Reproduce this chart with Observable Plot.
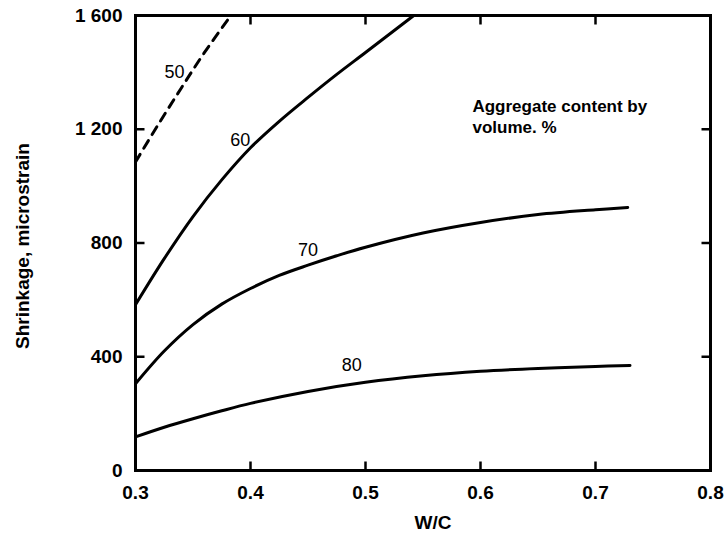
<!DOCTYPE html>
<html>
<head>
<meta charset="utf-8">
<script src="https://cdn.jsdelivr.net/npm/d3@7"></script>
<script src="https://cdn.jsdelivr.net/npm/@observablehq/plot@0.6"></script>
<style>
  html, body { margin: 0; padding: 0; background: #fff; }
  #chart svg { display: block; }
  #chart g[aria-label="x-axis tick label"] text,
  #chart g[aria-label="y-axis tick label"] text { font-weight: bold; }
</style>
</head>
<body>
<div id="chart"></div>
<script>
// ---- data ----
const wc50 = [0.300, 0.320, 0.340, 0.360, 0.383];
const s50  = [1085, 1218, 1346, 1470, 1600];

const wc60 = [0.300, 0.325, 0.350, 0.375, 0.400, 0.425, 0.450, 0.475, 0.500, 0.542];
const s60  = [583, 745, 893, 1022, 1135, 1228, 1312, 1393, 1470, 1600];

const wc70 = [0.300, 0.325, 0.350, 0.375, 0.400, 0.425, 0.450, 0.475, 0.500, 0.550, 0.600, 0.650, 0.700, 0.728];
const s70  = [305, 420, 513, 585, 640, 686, 722, 755, 785, 835, 872, 900, 917, 925];

const wc80 = [0.300, 0.325, 0.350, 0.375, 0.400, 0.450, 0.500, 0.550, 0.600, 0.650, 0.700, 0.730];
const s80  = [118, 152, 182, 210, 236, 278, 310, 333, 349, 359, 366, 369];

const curveNames   = ["50", "60", "70", "80"];
const labelWc      = [0.334, 0.391, 0.450, 0.488];
const labelShrink  = [1400, 1160, 774, 369];

const xTicks      = [0.3, 0.4, 0.5, 0.6, 0.7, 0.8];
const xTickLabels = ["0.3", "0.4", "0.5", "0.6", "0.7", "0.8"];
const xInnerTicks = [0.4, 0.5, 0.6, 0.7];
const yTicks      = [0, 400, 800, 1200, 1600];
const yTickLabels = ["0", "400", "800", "1 200", "1 600"];
const yInnerTicks = [400, 800, 1200];

const xLabel = "W/C";
const yLabel = "Shrinkage, microstrain";
const noteLines = ["Aggregate content by", "volume. %"];
const noteWc = 0.593;
const noteShrink = 1310;

// ---- layout ----
const W = 724, H = 540;
const mL = 135, mR = 14, mT = 15, mB = 70;
const frameW = W - mL - mR, frameH = H - mT - mB;
const tickLen = 9;
const xDomain = [0.3, 0.8], yDomain = [0, 1600];
const tickDy = tickLen * (yDomain[1] - yDomain[0]) / frameH;
const tickDx = tickLen * (xDomain[1] - xDomain[0]) / frameW;

// ---- build tables ----
const seriesWc = [wc50, wc60, wc70, wc80];
const seriesS  = [s50, s60, s70, s80];
const rows = curveNames.flatMap((name, i) =>
  seriesWc[i].map((w, j) => ({ name, wc: w, s: seriesS[i][j] })));
const labels = curveNames.map((name, i) => ({ name, wc: labelWc[i], s: labelShrink[i] }));
const bottomTicks = xInnerTicks.map(x => ({ x1: x, x2: x, y1: yDomain[0], y2: yDomain[0] + tickDy }));
const topTicks    = xInnerTicks.map(x => ({ x1: x, x2: x, y1: yDomain[1] - tickDy, y2: yDomain[1] }));
const leftTicks   = yInnerTicks.map(y => ({ x1: xDomain[0], x2: xDomain[0] + tickDx, y1: y, y2: y }));
const rightTicks  = yInnerTicks.map(y => ({ x1: xDomain[1] - tickDx, x2: xDomain[1], y1: y, y2: y }));
const allTicks = [...bottomTicks, ...topTicks, ...leftTicks, ...rightTicks];

const xFmt = d => xTickLabels[xTicks.indexOf(d)];
const yFmt = d => yTickLabels[yTicks.indexOf(d)];
const font = "'Liberation Sans', Arial, Helvetica, sans-serif";

const chart = Plot.plot({
  width: W,
  height: H,
  marginLeft: mL,
  marginRight: mR,
  marginTop: mT,
  marginBottom: mB,
  style: { fontFamily: font, fontSize: "19px", color: "#000", background: "#fff" },
  x: { domain: xDomain },
  y: { domain: yDomain },
  marks: [
    Plot.frame({ stroke: "#000", fill: "none", strokeWidth: 3 }),
    // tick labels
    Plot.axisX({ ticks: xTicks, tickFormat: xFmt, tickSize: 0, tickPadding: 15, label: null, fontSize: 19, fontWeight: "bold" }),
    Plot.axisY({ ticks: yTicks, tickFormat: yFmt, tickSize: 0, tickPadding: 13, label: null, fontSize: 19, fontWeight: "bold" }),
    // inward tick marks
    Plot.link(allTicks, { x1: "x1", y1: "y1", x2: "x2", y2: "y2", stroke: "#000", strokeWidth: 2.5 }),
    // curves
    Plot.line(rows.filter(d => d.name !== "50"), {
      x: "wc", y: "s", z: "name", stroke: "#000", strokeWidth: 3, curve: "catmull-rom"
    }),
    Plot.line(rows.filter(d => d.name === "50"), {
      x: "wc", y: "s", stroke: "#000", strokeWidth: 3, strokeDasharray: "9,7", curve: "catmull-rom"
    }),
    // curve labels
    Plot.text(labels, { x: "wc", y: "s", text: "name", fontSize: 18, fill: "#000", textAnchor: "middle" }),
    // note
    Plot.text([noteLines.join("\n")], {
      x: () => noteWc, y: () => noteShrink, textAnchor: "start", lineAnchor: "top",
      lineHeight: 1.2, fontSize: 17, fontWeight: "bold", fill: "#000"
    }),
    // axis titles
    Plot.text([xLabel], { frameAnchor: "bottom", textAnchor: "middle", dx: 10, dy: 58, fontSize: 19, fontWeight: "bold", fill: "#000" }),
    Plot.text([yLabel], { frameAnchor: "left", textAnchor: "middle", dx: -113, dy: 3, rotate: -90, fontSize: 19, fontWeight: "bold", fill: "#000" })
  ]
});
document.getElementById("chart").appendChild(chart);
</script>
</body>
</html>
